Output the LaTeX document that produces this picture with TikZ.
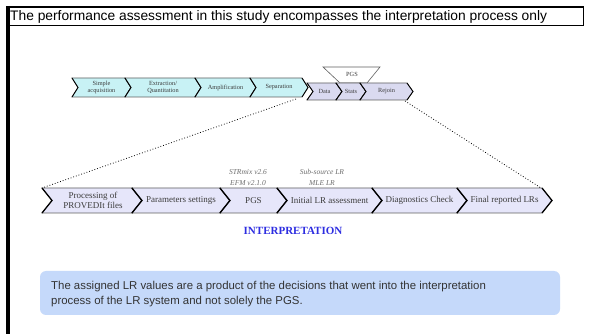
\documentclass[tikz,border=0pt]{standalone}
\usepackage{fontspec}
\setmainfont{Liberation Serif}
\newfontfamily\arialf{Liberation Sans}
\usetikzlibrary{calc}
\definecolor{cyanf}{RGB}{200,242,245}
\definecolor{lavup}{RGB}{218,218,240}
\definecolor{lavlo}{RGB}{230,230,250}
\definecolor{callf}{RGB}{197,217,250}
\definecolor{calltxt}{RGB}{51,51,51}
\definecolor{interp}{RGB}{45,45,225}
\definecolor{edgegray}{RGB}{95,95,95}
\definecolor{labgray}{RGB}{110,110,110}
\definecolor{chevtxt}{RGB}{60,60,60}
% #1 x1, #2 x2, #3 top, #4 bottom, #5 depth, #6 fill, #7 zig width
\newcommand{\chevshape}[7]{%
  \draw[fill=#6,draw=edgegray,line width=0.6pt,line join=miter]
    (#1,#3) -- (#2,#3) -- ({#2+#5},{(#3+#4)/2}) -- (#2,#4) -- (#1,#4) -- ({#1+#5},{(#3+#4)/2}) -- cycle;
  \draw[black,line width=#7,line join=miter] (#1,#3) -- ({#1+#5},{(#3+#4)/2}) -- (#1,#4);
  \draw[black,line width=#7,line join=miter] (#2,#3) -- ({#2+#5},{(#3+#4)/2}) -- (#2,#4);
}
\tikzset{
  uptext/.style={font=\fontsize{6.3}{7}\selectfont, text=chevtxt, align=center, inner sep=0pt},
  lotext/.style={font=\fontsize{9}{10}\selectfont, text=chevtxt, align=center, inner sep=0pt},
  toollab/.style={font=\fontsize{7.5}{10.5}\selectfont\itshape, text=labgray, align=center, inner sep=0pt},
  zoomline/.style={dotted, line width=0.8pt, black}
}
\begin{document}
\begin{tikzpicture}[x=1pt,y=-1pt]
\useasboundingbox (0,0) rectangle (590,334);
\fill[white] (0,0) rectangle (590,334);
% frame
\draw[black,line width=1pt] (8,7) rectangle (583,25.5);
\draw[black,line width=2.5pt] (6.5,7) -- (583.5,7);
\draw[black,line width=3.2pt] (8,5.8) -- (8,334);
\node[anchor=west, font=\arialf\fontsize{13.8}{16}\selectfont, inner sep=0pt] (title) at (10,16.5)
  {The performance assessment in this study encompasses the interpretation process only};
% PGS trapezoid (upper)
\draw[fill=white,draw=edgegray,line width=0.6pt] (323,67) -- (380,67) -- (367,83) -- (340,83) -- cycle;
\node[uptext] (pgsup) at (352,74) {PGS};
% upper cyan row
\chevshape{72}{125}{78}{97}{6}{cyanf}{0.9pt}
\chevshape{125}{195}{78}{97}{6}{cyanf}{0.9pt}
\chevshape{195}{250}{78}{97}{6}{cyanf}{0.9pt}
\chevshape{250}{302}{78}{97}{6}{cyanf}{0.9pt}
\node[uptext] (sa) at (101.5,87.5) {Simple\\acquisition};
\node[uptext] (eq) at (163,87.5) {Extraction/\\Quantitation};
\node[uptext] (amp) at (225.5,87.5) {Amplification};
\node[uptext] (sep) at (279,87.5) {Separation};
% upper lavender row
\chevshape{307}{336}{83}{100}{6}{lavup}{0.9pt}
\chevshape{336}{360}{83}{100}{6}{lavup}{0.9pt}
\chevshape{360}{407}{83}{100}{6}{lavup}{0.9pt}
\node[uptext] (data) at (324.5,91.5) {Data};
\node[uptext] (stats) at (351,91.5) {Stats};
\node[uptext] (rejoin) at (386.5,91.5) {Rejoin};
% lower row
\chevshape{42}{132}{188}{213}{10}{lavlo}{1.3pt}
\chevshape{132}{220}{188}{213}{10}{lavlo}{1.3pt}
\chevshape{220}{277}{188}{213}{10}{lavlo}{1.3pt}
\chevshape{277}{372}{188}{213}{10}{lavlo}{1.3pt}
\chevshape{372}{457}{188}{213}{10}{lavlo}{1.3pt}
\chevshape{457}{542}{188}{213}{10}{lavlo}{1.3pt}
\node[lotext] (proc) at (93,200.5) {Processing of\\PROVEDIt files};
\node[lotext] (param) at (181,200.5) {Parameters settings};
\node[lotext] (pgs) at (253.5,200.5) {PGS};
\node[lotext] (init) at (329.5,200.5) {Initial LR assessment};
\node[lotext] (diag) at (419.5,200.5) {Diagnostics Check};
\node[lotext] (final) at (504.5,200.5) {Final reported LRs};
% tool labels
\node[toollab] (strmix) at (248,177.5) {STRmix v2.6\\EFM v2.1.0};
\node[toollab] (subsrc) at (322,177.5) {Sub-source LR\\MLE LR};
% INTERPRETATION
\node[font=\fontsize{11}{12}\selectfont\bfseries, text=interp, inner sep=0pt] (interp) at (293,231) {INTERPRETATION};
% dotted zoom lines
\coordinate (sepcorner) at (296,99);
\coordinate (rowleft) at (42,188);
\coordinate (rejcorner) at (405,101);
\coordinate (rowright) at (541,188);
\draw[zoomline] (sepcorner) -- (rowleft);
\draw[zoomline] (rejcorner) -- (rowright);
% callout
\fill[callf, rounded corners=6pt] (40,271) rectangle (560,315);
\node[anchor=west, align=left, text=calltxt, inner sep=0pt,
  font=\arialf\fontsize{11.4}{15}\selectfont] (note) at (51,294.5)
  {The assigned LR values are a product of the decisions that went into the interpretation\\process of the LR system and not solely the PGS.};
\end{tikzpicture}
\end{document}
